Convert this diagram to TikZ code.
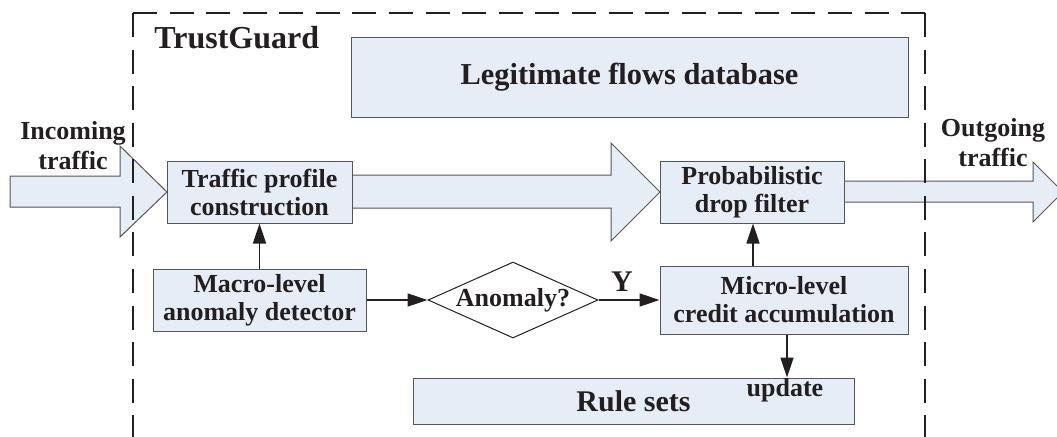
\documentclass[tikz,border=0pt]{standalone}
\usepackage{fontspec}
\setmainfont{Liberation Serif}
\usetikzlibrary{arrows.meta,shapes.geometric,calc}
\definecolor{boxfill}{RGB}{230,237,246}
\definecolor{boxline}{RGB}{85,85,85}
\definecolor{ink}{RGB}{35,31,32}
\begin{document}
\begin{tikzpicture}[x=0.5pt,y=-0.5pt,
  font=\bfseries\fontsize{13}{14}\selectfont, text=ink,
  box/.style={draw=boxline, fill=boxfill, line width=0.5pt, align=center, inner sep=0pt},
  conn/.style={draw=ink, line width=0.75pt, -{Triangle[length=10pt,width=6.5pt]}},
  bigarrow/.style={draw=boxline, fill=boxfill, line width=0.5pt},
  frame/.style={draw=ink, line width=0.65pt, dash pattern=on 12pt off 6.29pt},
  lbl/.style={align=center, inner sep=0pt}]
\useasboundingbox (0,0) rectangle (1057,436);

% big flow arrows
\draw[bigarrow] (10,176) -- (120,176) -- (120,146) -- (167,192) -- (120,237) -- (120,207) -- (10,207) -- cycle;
\draw[bigarrow] (352,175) -- (611,175) -- (611,143) -- (660,192) -- (611,241) -- (611,208) -- (352,208) -- cycle;
\draw[bigarrow] (844,181) -- (1033,181) -- (1033,162) -- (1063,192) -- (1033,222) -- (1033,202) -- (844,202) -- cycle;

% boxes
\node[box, minimum width=278.5pt, minimum height=40pt, font=\bfseries\fontsize{15.2}{17}\selectfont] (db) at (629.5,77) {Legitimate flows database};
\node[box, minimum width=92.5pt, minimum height=31pt] (tp) at (259.5,192) {Traffic profile\\construction};
\node[box, minimum width=92pt, minimum height=31pt] (pf) at (752,192) {Probabilistic\\drop filter};
\node[box, minimum width=106.5pt, minimum height=31pt] (macro) at (259.5,300) {Macro-level\\anomaly detector};
\node[box, minimum width=124pt, minimum height=34pt] (micro) at (784,300) {Micro-level\\credit accumulation};
\node[box, minimum width=220.5pt, minimum height=23pt, font=\bfseries\fontsize{15}{17}\selectfont] (rules) at (633.5,401) {Rule sets};
\node[draw=ink, line width=0.5pt, diamond, shape aspect=2.24, inner sep=0pt,
      minimum width=85pt, minimum height=38pt] (dia) at (513,300) {Anomaly?};

% labels
\node[lbl, anchor=west, font=\bfseries\fontsize{16}{18}\selectfont] (tg) at (154,38) {TrustGuard};
\node[lbl, font=\bfseries\fontsize{13}{15}\selectfont] (inc) at (73,146) {Incoming\\traffic};
\node[lbl, font=\bfseries\fontsize{13}{15}\selectfont] (out) at (993,143) {Outgoing\\traffic};
\node[lbl, font=\bfseries\fontsize{15}{17}\selectfont] (y) at (622,282) {Y};
\node[lbl] (upd) at (785,390) {update};

% connectors
\draw[conn] (macro.north) -- (tp.south);
\draw[conn] (macro.east) -- (dia.west);
\draw[conn] (dia.east) -- (micro.west);
\coordinate (mn) at ($(micro.north -| pf.south)+(1,0)$);
\draw[conn] (mn) -- (mn |- pf.south);
\coordinate (ms) at ($(micro.south)+(3,0)$);
\draw[conn] (ms) -- (ms |- rules.north);

% dashed TrustGuard frame
\draw[frame] (133,13) -- (133,450);
\draw[frame] (133,13) -- (925,13);
\draw[frame] (925,13) -- (925,450);
\end{tikzpicture}
\end{document}
